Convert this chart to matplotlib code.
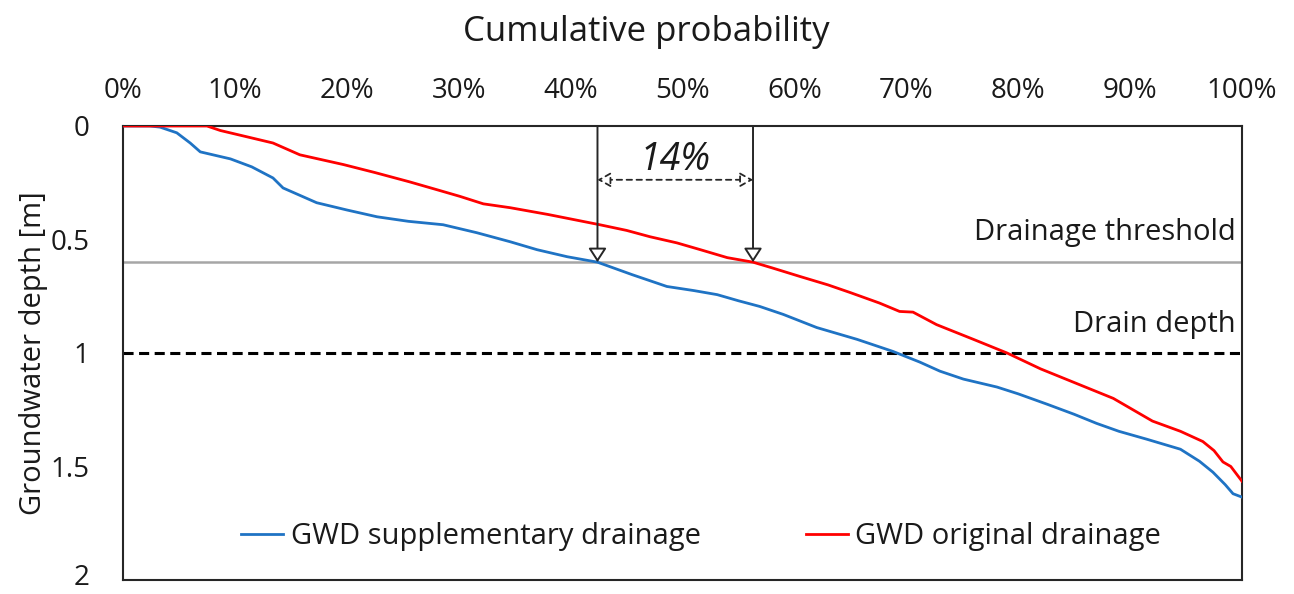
import matplotlib
matplotlib.use("Agg")
import matplotlib.pyplot as plt
from matplotlib.ticker import FuncFormatter
from matplotlib.transforms import ScaledTranslation

plt.rcParams['font.family'] = ['Open Sans', 'DejaVu Sans']

# Cumulative probability (%) and groundwater depth (m)
blue_p = [0, 2.4, 3.3, 4.8, 6.0, 6.9, 9.6, 11.5, 13.4, 14.3, 17.3, 20, 22.7, 25.5, 28.6,
          31.6, 34.6, 37, 39.7, 42.4, 45.5, 48.6, 51, 53.1, 55, 56.9, 59, 62, 65.6,
          68.8, 71.2, 73, 75.1, 78.1, 80, 82.6, 85, 87, 89, 91.5, 94.5, 96.2, 97.4,
          98.5, 99.2, 100]
blue_y = [0, 0, 0.005, 0.03, 0.075, 0.114, 0.145, 0.18, 0.229, 0.273, 0.338, 0.37, 0.40,
          0.42, 0.435, 0.47, 0.51, 0.545, 0.576, 0.6, 0.655, 0.707, 0.725, 0.743, 0.77,
          0.795, 0.83, 0.888, 0.94, 0.993, 1.04, 1.08, 1.115, 1.15, 1.18, 1.226, 1.27,
          1.31, 1.345, 1.38, 1.424, 1.477, 1.525, 1.58, 1.62, 1.635]

red_p = [0, 7.5, 8.7, 11.1, 13.4, 15.8, 19.7, 22.5, 25.6, 28, 30.1, 32.2, 34.6, 38, 42.6,
         45, 47.1, 49.5, 51.6, 54, 56.3, 58, 60.5, 63, 65, 67.6, 69.4, 70.6, 72.7, 76,
         79, 82, 85.5, 88.5, 92, 94.5, 96.5, 97.5, 98.3, 99, 100]
red_y = [0, 0, 0.02, 0.048, 0.075, 0.127, 0.17, 0.205, 0.246, 0.28, 0.31, 0.343, 0.36,
         0.39, 0.435, 0.46, 0.488, 0.515, 0.545, 0.58, 0.6, 0.625, 0.663, 0.70, 0.734,
         0.78, 0.817, 0.82, 0.875, 0.94, 1.0, 1.07, 1.14, 1.2, 1.30, 1.345, 1.39, 1.43,
         1.48, 1.50, 1.565]

series_labels = ["GWD supplementary drainage", "GWD original drainage"]
x_ticks = [0, 10, 20, 30, 40, 50, 60, 70, 80, 90, 100]
y_ticks = [0, 0.5, 1, 1.5, 2]
drainage_threshold = 0.6
drain_depth = 1.0
p_supp_at_threshold = 42.4
p_orig_at_threshold = 56.3
diff_label = "14%"

fig = plt.figure(figsize=(12.94, 5.94), dpi=100)
ax = fig.add_axes([0.0951, 0.0236, 0.8647, 0.7643])

ax.plot(blue_p, blue_y, color='#1F73C4', lw=2.0, label=series_labels[0], zorder=4)
ax.plot(red_p, red_y, color='#FF0000', lw=2.0, label=series_labels[1], zorder=4)

ax.axhline(drainage_threshold, color='#A6A6A6', lw=1.8, zorder=2)
ax.axhline(drain_depth, color='black', lw=2.2, ls=(0, (3.3, 1.8)), zorder=2)

ax.set_xlim(0, 100)
ax.set_ylim(2, 0)
ax.xaxis.tick_top()
ax.xaxis.set_label_position('top')
ax.set_xticks(x_ticks)
ax.xaxis.set_major_formatter(FuncFormatter(lambda v, p: f"{int(v)}%"))
ax.set_yticks(y_ticks)
ax.set_yticklabels([f"{v:g}" for v in y_ticks])
ax.tick_params(axis='both', length=0, labelsize=20, colors='#1a1a1a')
ax.tick_params(axis='x', pad=15)
ax.tick_params(axis='y', pad=24)
ax.set_xlabel("Cumulative probability", fontsize=25, color='#1a1a1a')
ax.xaxis.set_label_coords(0.4674, 1.207)
ax.xaxis.label.set_va('center')
ax.set_ylabel("Groundwater depth [m]", fontsize=21, labelpad=2, color='#1a1a1a')
for s in ax.spines.values():
    s.set_color('#262626')
    s.set_linewidth(1.5)

# nudge the bottom y tick label up slightly so it stays inside the figure
last_lbl = ax.get_yticklabels()[-1]
last_lbl.set_transform(last_lbl.get_transform() + ScaledTranslation(0, 4 / 72, fig.dpi_scale_trans))

# Annotation arrows
arrow_kw = dict(arrowstyle='-|>,head_length=0.85,head_width=0.55', fc='white',
                ec='#262626', lw=1.4, shrinkA=0, shrinkB=0)
for p in (p_supp_at_threshold, p_orig_at_threshold):
    ax.annotate('', xy=(p, drainage_threshold), xytext=(p, 0), arrowprops=arrow_kw, zorder=5)
ax.annotate('', xy=(p_supp_at_threshold, 0.237), xytext=(p_orig_at_threshold, 0.237),
            arrowprops=dict(arrowstyle='<|-|>,head_length=0.8,head_width=0.45', fc='white',
                            ec='#262626', lw=1.3, ls=(0, (3, 2.5)), shrinkA=0, shrinkB=0),
            zorder=5)
ax.text((p_supp_at_threshold + p_orig_at_threshold) / 2, 0.15, diff_label, fontsize=27,
        style='italic', ha='center', va='center', color='#1a1a1a')

ax.text(99.4, 0.47, "Drainage threshold", fontsize=21, ha='right', va='center', color='#1a1a1a')
ax.text(99.4, 0.875, "Drain depth", fontsize=21, ha='right', va='center', color='#1a1a1a')

leg = ax.legend(loc='center', bbox_to_anchor=(0.5166, 0.0947), ncol=2, frameon=False,
                fontsize=21, handlelength=1.45, columnspacing=3.6, handletextpad=0.25)
for t in leg.get_texts():
    t.set_color('#1a1a1a')

fig.savefig('out.png', dpi=100)
